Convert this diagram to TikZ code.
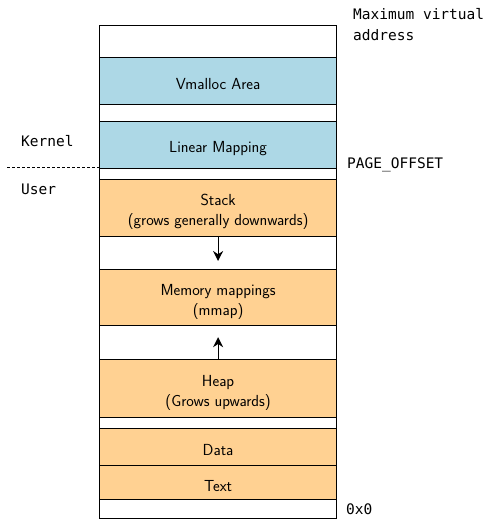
\documentclass[tikz,border=0pt]{standalone}
\usepackage{fontspec}
\newfontfamily\monof{DejaVu Sans Mono}
\usetikzlibrary{arrows.meta}
\definecolor{kblue}{RGB}{173,216,230}
\definecolor{uorange}{RGB}{255,209,146}
\tikzset{
  region/.style={draw=black, line width=1.2pt, minimum width=237pt, inner sep=0pt, anchor=north west},
  kreg/.style={region, fill=kblue},
  ureg/.style={region, fill=uorange},
  boxtext/.style={inner sep=0pt, align=center, font=\sffamily\fontsize{16}{20}\selectfont},
  lbl/.style={font=\monof\fontsize{14.5}{21}\selectfont, anchor=west, inner sep=0pt, align=left},
  growarrow/.style={-{Stealth[length=10pt,width=10pt]}, line width=1.2pt}
}
\begin{document}
\begin{tikzpicture}[x=1pt,y=-1pt]
\useasboundingbox (0,0) rectangle (488,519);
\node[region, minimum height=493pt] (outer) at (99,25) {};
\node[kreg, minimum height=47pt] (vmalloc) at (99,57) {};
\node[kreg, minimum height=47pt] (linear) at (99,121) {};
\node[ureg, minimum height=57pt] (stack) at (99,179) {};
\node[ureg, minimum height=56pt] (mmap) at (99,269) {};
\node[ureg, minimum height=58pt] (heap) at (99,359) {};
\node[ureg, minimum height=37pt] (data) at (99,428) {};
\node[ureg, minimum height=34pt] (text) at (99,465) {};
\node[boxtext] (vmalloctxt) at ([yshift=-3pt]vmalloc.center) {Vmalloc Area};
\node[boxtext] (lineartxt) at ([yshift=-3pt]linear.center) {Linear Mapping};
\node[boxtext] (stacktxt) at ([yshift=-4pt]stack.center) {Stack\\(grows generally downwards)};
\node[boxtext] (mmaptxt) at ([yshift=-4pt]mmap.center) {Memory mappings\\(mmap)};
\node[boxtext] (heaptxt) at ([yshift=-4pt]heap.center) {Heap\\(Grows upwards)};
\node[boxtext] (datatxt) at ([yshift=-3pt]data.center) {Data};
\node[boxtext] (texttxt) at ([yshift=-3pt]text.center) {Text};
\draw[growarrow, shorten >=8pt] (stack.south) -- (mmap.north);
\draw[growarrow, shorten >=11pt] (heap.north) -- (mmap.south);
\node[lbl] (maxva) at (353,25) {Maximum virtual\\address};
\node[lbl] (pageoff) at (347,165) {PAGE\_OFFSET};
\node[lbl] (zero) at (346,509.5) {0x0};
\node[lbl] (kernel) at (21,141) {Kernel};
\node[lbl] (user) at (21,189) {User};
\coordinate (dashstart) at (7,167.5);
\draw[line width=1pt, dash pattern=on 3pt off 2pt] (dashstart) -- (dashstart -| outer.west);
\end{tikzpicture}
\end{document}
